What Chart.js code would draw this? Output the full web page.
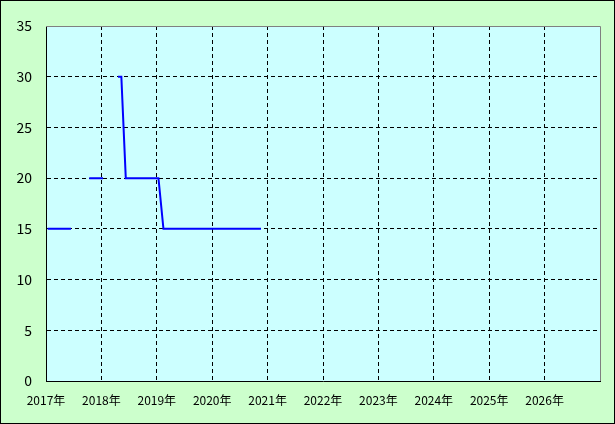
<!DOCTYPE html>
<html>
<head>
<meta charset="utf-8">
<script src="https://cdn.jsdelivr.net/npm/chart.js@4"></script>
<style>
  html, body { margin: 0; padding: 0; background: #fff; }
  #chart { display: block; }
</style>
</head>
<body>
<canvas id="chart" width="615" height="424"></canvas>
<script>
// values (x in decimal years, null = gap in the line)
const xYears  = [2017.03, 2017.45, 2017.6, 2017.78, 2018.03, 2018.15, 2018.30, 2018.36, 2018.44, 2019.03, 2019.12, 2020.88];
const yValues = [15, 15, null, 20, 20, null, 30, 30, 20, 20, 15, 15];
const yearTicks = [2017, 2018, 2019, 2020, 2021, 2022, 2023, 2024, 2025, 2026];

const points = xYears.map((x, i) => ({ x: x, y: yValues[i] }));

// background colours, outer border and the grey top/right frame
const framePlugin = {
    id: "frame",
    beforeDraw(chart) {
        const { ctx, chartArea: a } = chart;
        ctx.save();
        ctx.fillStyle = "#ccffcc";
        ctx.fillRect(0, 0, chart.width, chart.height);
        ctx.fillStyle = "#ccffff";
        ctx.fillRect(a.left, a.top, a.right - a.left, a.bottom - a.top);
        ctx.restore();
    },
    afterDraw(chart) {
        const { ctx, chartArea: a } = chart;
        ctx.save();
        ctx.lineWidth = 1;
        ctx.strokeStyle = "#808080";
        ctx.beginPath();
        ctx.moveTo(a.left, a.top + 0.5);
        ctx.lineTo(a.right + 0.5, a.top + 0.5);
        ctx.lineTo(a.right + 0.5, a.bottom);
        ctx.stroke();
        ctx.strokeStyle = "#000";
        ctx.strokeRect(0.5, 0.5, chart.width - 1, chart.height - 1);
        ctx.restore();
    }
};

const ctx = document.getElementById("chart").getContext("2d");

new Chart(ctx, {
    type: "line",
    data: {
        datasets: [{
            data: points,
            borderColor: "#0000ff",
            borderWidth: 2,
            pointRadius: 0,
            spanGaps: false,
            tension: 0
        }]
    },
    options: {
        responsive: false,
        animation: false,
        layout: { padding: { left: 0, top: 26, right: 15, bottom: 0 } },
        scales: {
            x: {
                type: "linear",
                min: 2017,
                max: 2027,
                afterBuildTicks: scale => {
                    scale.ticks = yearTicks.concat([2027]).map(v => ({ value: v }));
                },
                afterFit: scale => { scale.height = 43; },
                grid: {
                    drawTicks: false,
                    color: c => (c.tick && (c.tick.value === 2017 || c.tick.value === 2027)) ? "rgba(0,0,0,0)" : "#000"
                },
                border: { display: true, color: "#000", width: 1, dash: [4, 3] },
                ticks: {
                    autoSkip: false,
                    maxRotation: 0,
                    padding: 12,
                    color: "#000",
                    font: { family: "'Noto Sans CJK JP', sans-serif", size: 12 },
                    callback: v => v === 2027 ? "" : v + "年"
                }
            },
            y: {
                min: 0,
                max: 35,
                afterFit: scale => { scale.width = 46; },
                grid: {
                    drawTicks: false,
                    color: c => (c.tick && (c.tick.value === 0 || c.tick.value === 35)) ? "rgba(0,0,0,0)" : "#000"
                },
                border: { display: true, color: "#000", width: 1, dash: [4, 3] },
                ticks: {
                    stepSize: 5,
                    padding: 14,
                    color: "#000",
                    font: { family: "'Noto Sans CJK JP', sans-serif", size: 14 }
                }
            }
        },
        plugins: {
            legend: { display: false },
            tooltip: { enabled: false }
        }
    },
    plugins: [framePlugin]
});
</script>
</body>
</html>
